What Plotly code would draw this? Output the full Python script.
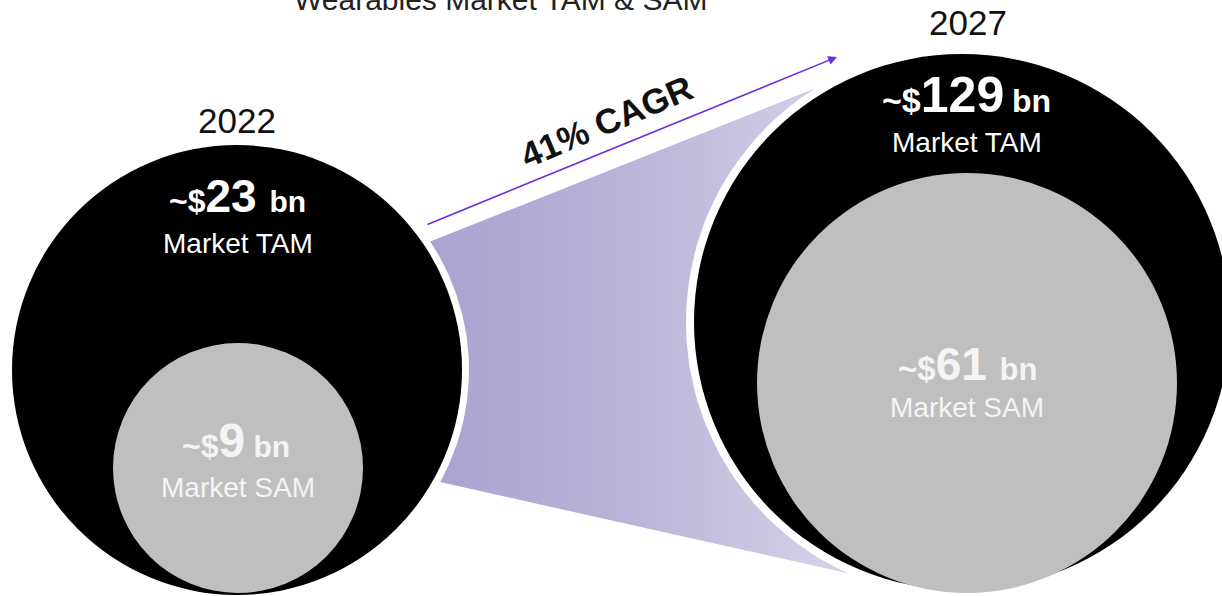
import math
import plotly.graph_objects as go

# ---------------- data ----------------
title_text = "Wearables Market TAM & SAM<sup>1</sup>"
years = ["2022", "2027"]
tam_bn = [23, 129]
sam_bn = [9, 61]
cagr_pct = 41
tam_label = "Market TAM"
sam_label = "Market SAM"

# ---------------- layout geometry (pixels, y down) ----------------
W, H = 1222, 596
tam_center = [(237, 370), (962, 322)]
tam_radius = [225, 268]
sam_center = [(238, 468), (967, 383)]
sam_radius = [125, 210]
year_pos = [(237, 120), (968, 22)]
tam_num_pos = [(237, 196), (966, 95)]
tam_lab_pos = [(238, 243), (967, 142)]
sam_num_pos = [(236, 440), (967, 364)]
sam_lab_pos = [(238, 487), (967, 407)]
# (prefix size, number size, suffix size, space size)
tam_sizes = [(32, 46, 30, 46), (34, 50, 32, 28)]
sam_sizes = [(32, 48, 30, 30), (33, 46, 31, 46)]

FONT = "Liberation Sans, Arial, sans-serif"
BLACK = "#000000"
GRAY = "#BFBFBF"
PURPLE = "#6B2BE0"

fig = go.Figure()

# ---- purple connecting band between circles ----
gap = 7
r1 = tam_radius[0] + gap
r2 = tam_radius[1] + gap + 1
c1 = tam_center[0]
c2 = tam_center[1]
ang_A, ang_D = -33.6, 28.9          # on left circle
ang_B, ang_C = 237.9, 114.4         # on right circle


def pt(c, r, deg):
    a = math.radians(deg)
    return c[0] + r * math.cos(a), c[1] + r * math.sin(a)


px, py = [], []
n = 60
for i in range(n + 1):
    d = ang_B + (ang_C - ang_B) * i / n
    x, y = pt(c2, r2, d)
    px.append(x); py.append(y)
for i in range(n + 1):
    d = ang_D + (ang_A - ang_D) * i / n
    x, y = pt(c1, r1, d)
    px.append(x); py.append(y)
px.append(px[0]); py.append(py[0])

fig.add_trace(go.Scatter(
    x=px, y=py, mode="lines", fill="toself",
    line=dict(width=0, color="rgba(0,0,0,0)"),
    fillgradient=dict(type="horizontal",
                      colorscale=[[0, "#A9A3D0"], [0.5, "#BAB5D9"], [1, "#D6D3E8"]]),
    hoverinfo="skip", showlegend=False,
))

shapes = []
for i in range(2):
    cx, cy = tam_center[i]
    r = tam_radius[i]
    shapes.append(dict(type="circle", xref="x", yref="y",
                       x0=cx - r, x1=cx + r, y0=cy - r, y1=cy + r,
                       fillcolor=BLACK, line=dict(width=0), layer="above"))
    cx, cy = sam_center[i]
    r = sam_radius[i]
    shapes.append(dict(type="circle", xref="x", yref="y",
                       x0=cx - r, x1=cx + r, y0=cy - r, y1=cy + r,
                       fillcolor=GRAY, line=dict(width=0), layer="above"))

annotations = []


def txt(x, y, text, size, color, bold=False, angle=0):
    annotations.append(dict(
        x=x, y=y, xref="x", yref="y", text=f"<b>{text}</b>" if bold else text,
        showarrow=False, xanchor="center", yanchor="middle", textangle=angle,
        font=dict(family=FONT, size=size, color=color)))


def money(v, sizes):
    s1, s2, s3, s4 = sizes
    return (f"<b><span style='font-size:{s1}px'>~$</span>"
            f"<span style='font-size:{s2}px'>{v}</span>"
            f"<span style='font-size:{s4}px'> </span>"
            f"<span style='font-size:{s3}px'>bn</span></b>")


# title (cut at the top edge, as in the reference)
annotations.append(dict(
    x=506, y=1, xref="x", yref="paper", yshift=3, text=title_text,
    showarrow=False, xanchor="center", yanchor="middle",
    font=dict(family=FONT, size=30, color="#222222")))

for i in range(2):
    txt(*year_pos[i], years[i], 35, "#111111")
    txt(*tam_num_pos[i], money(tam_bn[i], tam_sizes[i]), 28, "#FFFFFF")
    txt(*tam_lab_pos[i], tam_label, 28, "#FFFFFF")
    txt(*sam_num_pos[i], money(sam_bn[i], sam_sizes[i]), 28, "#F4F4F4")
    txt(*sam_lab_pos[i], sam_label, 28, "#F4F4F4")

# CAGR arrow
annotations.append(dict(
    x=837, y=57, ax=426, ay=225, xref="x", yref="y", axref="x", ayref="y",
    text="", showarrow=True, arrowhead=2, arrowsize=1.1, arrowwidth=1.6,
    arrowcolor=PURPLE, standoff=0, startstandoff=0))
txt(606, 121, f"{cagr_pct}% CAGR", 35, "#111111", bold=True, angle=-23)

fig.update_layout(
    width=W, height=H, margin=dict(l=0, r=0, t=0, b=0),
    paper_bgcolor="white", plot_bgcolor="white",
    xaxis=dict(range=[0, W], visible=False, fixedrange=True),
    yaxis=dict(range=[H, 0], visible=False, fixedrange=True),
    shapes=shapes, annotations=annotations, showlegend=False,
)

fig.write_html("out.html", config={"displayModeBar": False},
               post_script="document.body.style.margin='0px';")
